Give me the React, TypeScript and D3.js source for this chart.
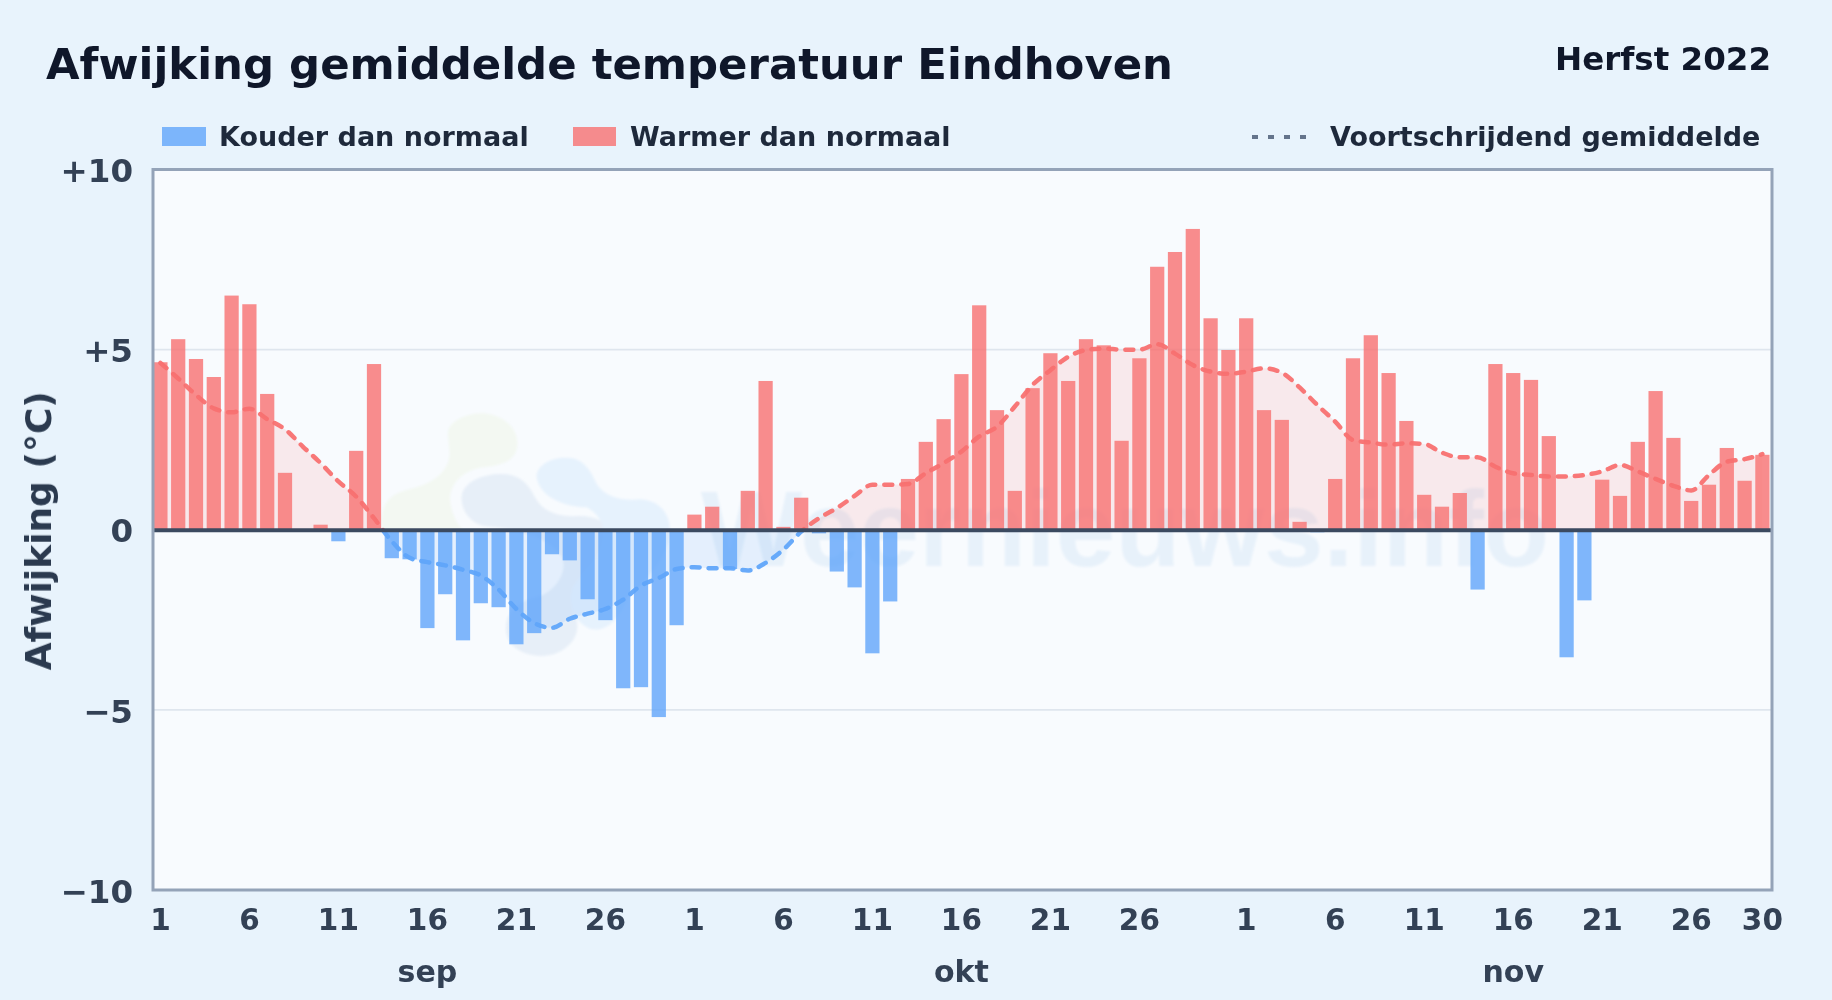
import React, { useEffect, useRef } from 'react';
import * as d3 from 'd3';

const monthLengths = [30, 31, 30];
const monthNames = ['sep', 'okt', 'nov'];

const sepAnomaly = [4.65, 5.29, 4.74, 4.24, 6.5, 6.26, 3.77, 1.58, 0, 0.14, -0.32, 2.19, 4.6, -0.79, -0.82, -2.73, -1.79, -3.07, -2.04, -2.15, -3.18, -2.87, -0.68, -0.85, -1.93, -2.51, -4.4, -4.37, -5.2, -2.65];
const oktAnomaly = [0.42, 0.64, -1.09, 1.08, 4.13, 0.08, 0.89, -0.1, -1.16, -1.6, -3.43, -1.99, 1.41, 2.44, 3.07, 4.32, 6.23, 3.32, 1.08, 3.93, 4.9, 4.13, 5.29, 5.12, 2.47, 4.76, 7.3, 7.71, 8.35, 5.87, 4.99];
const novAnomaly = [5.87, 3.32, 3.05, 0.22, -0.07, 1.41, 4.76, 5.4, 4.35, 3.02, 0.97, 0.64, 1.02, -1.66, 4.6, 4.35, 4.16, 2.6, -3.54, -1.96, 1.39, 0.94, 2.44, 3.85, 2.55, 0.8, 1.25, 2.27, 1.36, 2.08];

const sepAverage = [4.63, 4.2, 3.74, 3.37, 3.26, 3.36, 3.07, 2.79, 2.31, 1.85, 1.34, 0.92, 0.32, -0.32, -0.78, -0.9, -0.99, -1.11, -1.27, -1.66, -2.2, -2.59, -2.72, -2.47, -2.33, -2.2, -1.94, -1.55, -1.34, -1.09];
const oktAverage = [-1.04, -1.07, -1.07, -1.13, -0.92, -0.55, -0.05, 0.32, 0.6, 0.94, 1.25, 1.25, 1.27, 1.57, 1.85, 2.17, 2.59, 2.86, 3.42, 4.02, 4.43, 4.8, 4.99, 5.03, 5.0, 5.0, 5.15, 4.89, 4.57, 4.39, 4.33];
const novAverage = [4.39, 4.48, 4.36, 3.95, 3.46, 3.0, 2.49, 2.42, 2.36, 2.4, 2.38, 2.14, 2.01, 2.01, 1.75, 1.57, 1.52, 1.48, 1.48, 1.52, 1.62, 1.8, 1.62, 1.41, 1.22, 1.09, 1.52, 1.89, 1.96, 2.1];

const yTicks = [10, 5, 0, -5, -10];
const dayTicks = [1, 6, 11, 16, 21, 26];

const anomaly = [...sepAnomaly, ...oktAnomaly, ...novAnomaly];
const average = [...sepAverage, ...oktAverage, ...novAverage];

const WIDTH = 1832;
const HEIGHT = 1000;
const margin = { top: 169.5, right: 60, bottom: 110, left: 153 };
const FONT = '"DejaVu Sans", sans-serif';

const RED = '#f87171';
const BLUE = '#60a5fa';

export default function App() {
  const svgRef = useRef<SVGSVGElement>(null);

  useEffect(() => {
    if (!svgRef.current) return;
    const svg = d3.select(svgRef.current);
    svg.selectAll('*').remove();

    const plotRight = WIDTH - margin.right;
    const plotBottom = HEIGHT - margin.bottom;

    const x = d3.scaleBand<number>()
      .domain(d3.range(anomaly.length))
      .range([151.5, 1771.3])
      .paddingInner(0.2)
      .paddingOuter(0.1);
    const y = d3.scaleLinear().domain([-10, 10]).range([plotBottom, margin.top]);
    const cx = (i: number) => x(i)! + x.bandwidth() / 2;

    const defs = svg.append('defs');
    defs.append('clipPath').attr('id', 'plot-clip').append('rect')
      .attr('x', margin.left).attr('y', margin.top)
      .attr('width', plotRight - margin.left).attr('height', plotBottom - margin.top);
    defs.append('clipPath').attr('id', 'above-zero').append('rect')
      .attr('x', margin.left).attr('y', margin.top)
      .attr('width', plotRight - margin.left).attr('height', y(0) - margin.top);
    defs.append('clipPath').attr('id', 'below-zero').append('rect')
      .attr('x', margin.left).attr('y', y(0))
      .attr('width', plotRight - margin.left).attr('height', plotBottom - y(0));
    defs.append('filter').attr('id', 'soft')
      .append('feGaussianBlur').attr('stdDeviation', 1);

    svg.append('rect').attr('width', WIDTH).attr('height', HEIGHT).attr('fill', '#e8f3fc');
    svg.append('rect')
      .attr('x', margin.left).attr('y', margin.top)
      .attr('width', plotRight - margin.left).attr('height', plotBottom - margin.top)
      .attr('fill', '#f8fbfe');

    // Watermark
    const mark = svg.append('g').attr('clip-path', 'url(#plot-clip)').attr('filter', 'url(#soft)');
    const blobs = mark.append('g').attr('transform', 'translate(370,390) scale(0.3333)');
    blobs.append('path')
      .attr('d', 'M35 425 C30 350 50 315 110 300 C170 285 215 265 235 215 C245 180 230 150 235 120 C250 85 300 68 345 70 C410 80 445 120 442 165 C440 205 410 225 340 232 C280 240 240 280 240 330 C245 370 260 405 285 425 Z')
      .attr('fill', '#f3f8f2');
    blobs.append('path')
      .attr('d', 'M340 408 C295 395 272 355 275 318 C282 272 345 250 400 252 C455 255 478 288 495 322 C518 365 565 382 620 378 C672 375 712 395 728 428 L640 560 C605 590 595 640 620 690 C635 750 575 798 515 798 C445 795 405 760 408 710 C412 650 460 630 520 615 C565 590 590 545 578 505 C560 470 500 420 340 408 Z')
      .attr('fill', '#e7eff8');
    blobs.append('path')
      .attr('d', 'M500 262 C498 222 555 195 608 205 C650 215 665 252 682 285 C710 325 760 332 812 328 C868 332 900 370 900 420 C900 490 840 560 775 620 C745 695 705 728 660 716 C612 695 588 640 608 590 C628 552 665 530 690 480 C712 430 700 378 650 352 C590 352 510 325 500 262 Z')
      .attr('fill', '#e6f2fd');
    mark.append('text')
      .attr('x', 701).attr('y', 566)
      .attr('font-family', '"Liberation Sans", sans-serif')
      .attr('font-weight', 700)
      .attr('font-size', 107)
      .attr('fill', '#e7f1fa')
      .text('Weernieuws.info');

    // Grid lines
    svg.append('g').selectAll('line')
      .data(yTicks.filter(t => Math.abs(t) === 5))
      .join('line')
      .attr('x1', margin.left).attr('x2', plotRight)
      .attr('y1', d => y(d)).attr('y2', d => y(d))
      .attr('stroke', '#dfe6ee').attr('stroke-width', 1.8);

    // Area under the running mean, split at zero
    const area = d3.area<number>()
      .x((_, i) => cx(i))
      .y0(y(0))
      .y1(d => y(d))
      .curve(d3.curveMonotoneX);
    const line = d3.line<number>()
      .x((_, i) => cx(i))
      .y(d => y(d))
      .curve(d3.curveMonotoneX);

    const split = [
      { clip: 'url(#above-zero)', color: RED },
      { clip: 'url(#below-zero)', color: BLUE },
    ];
    svg.append('g').selectAll('path')
      .data(split)
      .join('path')
      .attr('clip-path', d => d.clip)
      .attr('d', area(average))
      .attr('fill', d => d.color)
      .attr('fill-opacity', 0.13);

    // Bars
    svg.append('g').attr('clip-path', 'url(#plot-clip)').selectAll('rect')
      .data(anomaly)
      .join('rect')
      .attr('x', (_, i) => x(i)!)
      .attr('width', x.bandwidth())
      .attr('y', d => (d >= 0 ? y(d) : y(0)))
      .attr('height', d => Math.abs(y(d) - y(0)))
      .attr('fill', d => (d >= 0 ? RED : BLUE))
      .attr('fill-opacity', 0.8);

    // Running mean
    svg.append('g').selectAll('path')
      .data(split)
      .join('path')
      .attr('clip-path', d => d.clip)
      .attr('d', line(average))
      .attr('fill', 'none')
      .attr('stroke', d => d.color)
      .attr('stroke-width', 4.5)
      .attr('stroke-dasharray', '8 9')
      .attr('stroke-linecap', 'round')
      .attr('stroke-opacity', 0.95);

    // Zero line and frame
    svg.append('line')
      .attr('x1', margin.left).attr('x2', plotRight)
      .attr('y1', y(0) + 0.5).attr('y2', y(0) + 0.5)
      .attr('stroke', '#3b4a60').attr('stroke-width', 4);
    svg.append('rect')
      .attr('x', margin.left).attr('y', margin.top)
      .attr('width', plotRight - margin.left).attr('height', plotBottom - margin.top)
      .attr('fill', 'none').attr('stroke', '#94a3b8').attr('stroke-width', 3);

    const text = (tx: number, ty: number, s: string, size: number, fill: string, anchor = 'start') =>
      svg.append('text')
        .attr('x', tx).attr('y', ty)
        .attr('font-family', FONT).attr('font-weight', 700)
        .attr('font-size', size).attr('fill', fill)
        .attr('text-anchor', anchor)
        .text(s);

    text(46, 79, 'Afwijking gemiddelde temperatuur Eindhoven', 43.4, '#0f172a');
    text(1771, 70, 'Herfst 2022', 32.5, '#0f172a', 'end');

    // Legend
    svg.append('rect').attr('x', 162).attr('y', 127).attr('width', 44).attr('height', 19).attr('fill', BLUE).attr('fill-opacity', 0.8);
    text(219, 146, 'Kouder dan normaal', 27, '#1e293b');
    svg.append('rect').attr('x', 573).attr('y', 127).attr('width', 43).attr('height', 19).attr('fill', RED).attr('fill-opacity', 0.8);
    text(630, 146, 'Warmer dan normaal', 27, '#1e293b');
    svg.append('line').attr('x1', 1252).attr('x2', 1310).attr('y1', 137).attr('y2', 137)
      .attr('stroke', '#64748b').attr('stroke-width', 4).attr('stroke-dasharray', '6 10');
    text(1330, 146, 'Voortschrijdend gemiddelde', 27, '#1e293b');

    // Y axis labels
    const yLabel = (t: number) => (t > 0 ? `+${t}` : t < 0 ? `\u2212${-t}` : '0');
    svg.append('g').selectAll('text')
      .data(yTicks)
      .join('text')
      .attr('x', 133).attr('y', d => y(d) + 12.7)
      .attr('text-anchor', 'end')
      .attr('font-family', FONT).attr('font-weight', 700).attr('font-size', 32.5)
      .attr('fill', '#334155')
      .text(yLabel);
    svg.append('text')
      .attr('transform', `translate(51,${y(0) + 1}) rotate(-90)`)
      .attr('text-anchor', 'middle')
      .attr('font-family', FONT).attr('font-weight', 700).attr('font-size', 36)
      .attr('fill', '#2b3a4f')
      .text('Afwijking (°C)');

    // X axis labels
    let start = 0;
    const dayLabels: { i: number; label: string }[] = [];
    const monthLabels: { mid: number; label: string }[] = [];
    monthLengths.forEach((len, m) => {
      dayTicks.filter(d => d <= len).forEach(d => dayLabels.push({ i: start + d - 1, label: String(d) }));
      monthLabels.push({ mid: start + Math.floor(len / 2), label: monthNames[m] });
      start += len;
    });
    dayLabels.push({ i: anomaly.length - 1, label: '30' });

    svg.append('g').selectAll('text')
      .data(dayLabels)
      .join('text')
      .attr('x', d => cx(d.i)).attr('y', 930)
      .attr('text-anchor', 'middle')
      .attr('font-family', FONT).attr('font-weight', 700).attr('font-size', 29.5)
      .attr('fill', '#334155')
      .text(d => d.label);
    svg.append('g').selectAll('text')
      .data(monthLabels)
      .join('text')
      .attr('x', d => cx(d.mid)).attr('y', 982)
      .attr('text-anchor', 'middle')
      .attr('font-family', FONT).attr('font-weight', 700).attr('font-size', 30)
      .attr('fill', '#334155')
      .text(d => d.label);
  }, []);

  return <svg ref={svgRef} width={WIDTH} height={HEIGHT} style={{ position: 'absolute', left: 0, top: 0, display: 'block' }} />;
}
